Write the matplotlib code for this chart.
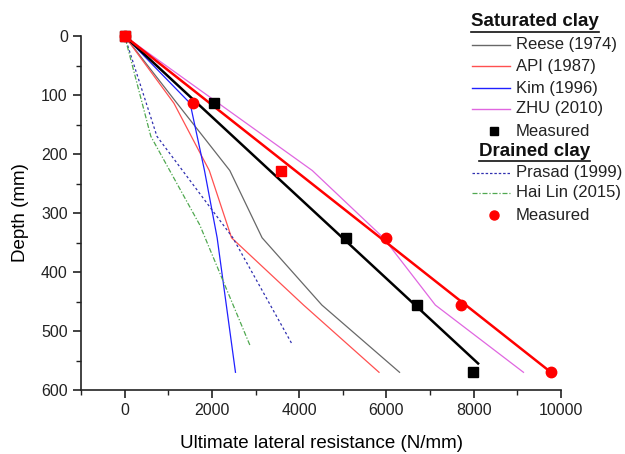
"""Ultimate lateral resistance vs depth: p-y models against measured values."""

import matplotlib

matplotlib.use("Agg")

import matplotlib.pyplot as plt
from matplotlib.lines import Line2D
from matplotlib.ticker import MultipleLocator

plt.rcParams["font.family"] = ["Liberation Sans", "DejaVu Sans"]

# --- data (resistance N/mm, depth mm) ---
reese_x = [0, 1200, 2410, 3150, 4520, 6300]
reese_y = [0, 114, 228, 342, 456, 570]

api_x = [0, 1130, 1940, 2450, 4100, 5830]
api_y = [0, 114, 228, 342, 456, 570]

kim_x = [0, 1500, 1830, 2120, 2330, 2540]
kim_y = [0, 114, 228, 342, 456, 570]

zhu_x = [0, 4300, 5930, 7120, 9140]
zhu_y = [0, 228, 342, 456, 570]

prasad_x = [0, 740, 2480, 3850]
prasad_y = [0, 170, 342, 524]

hailin_x = [0, 600, 1720, 2870]
hailin_y = [0, 170, 320, 524]

sat_fit_x = [0, 8100]
sat_fit_y = [0, 555]

sat_meas_x = [0, 2050, 5070, 6700, 7990]
sat_meas_y = [0, 114, 342, 456, 570]

dr_fit_x = [0, 9770]
dr_fit_y = [0, 570]

dr_meas_x = [0, 1570, 5980, 7716, 9770]
dr_meas_y = [0, 114, 342, 456, 570]

# one measured point drawn as a red square in the original
dr_sq_x = [0, 3580]
dr_sq_y = [0, 228]

C_REESE = "#686868"
C_API = "#ff5050"
C_KIM = "#2020ff"
C_ZHU = "#e066e0"
C_PRASAD = "#3030b0"
C_HAILIN = "#50a850"


def main():
    fig = plt.figure(figsize=(6.25, 4.54), dpi=100)
    W, H = 625.0, 454.0
    ax = fig.add_axes([81 / W, 1 - 390 / H, (561 - 81) / W, (390 - 36) / H])

    ax.plot(reese_x, reese_y, color=C_REESE, lw=0.9)
    ax.plot(api_x, api_y, color=C_API, lw=0.9)
    ax.plot(kim_x, kim_y, color=C_KIM, lw=0.9)
    ax.plot(zhu_x, zhu_y, color=C_ZHU, lw=0.9)
    ax.plot(prasad_x, prasad_y, color=C_PRASAD, lw=0.9, ls=(0, (2, 2)))
    ax.plot(hailin_x, hailin_y, color=C_HAILIN, lw=0.9, ls=(0, (4, 1.5, 1, 1.5)))

    ax.plot(sat_fit_x, sat_fit_y, color="black", lw=1.8)
    ax.plot(dr_fit_x, dr_fit_y, color="red", lw=1.8)

    ax.plot(sat_meas_x, sat_meas_y, ls="none", marker="s", ms=6.5,
            color="black", clip_on=False, zorder=5)
    ax.plot(dr_meas_x, dr_meas_y, ls="none", marker="o", ms=7.5,
            color="red", clip_on=False, zorder=6)
    ax.plot(dr_sq_x, dr_sq_y, ls="none", marker="s", ms=7,
            color="red", clip_on=False, zorder=6)

    ax.set_xlim(-1000, 10000)
    ax.set_ylim(600, 0)
    ax.xaxis.set_major_locator(MultipleLocator(2000))
    ax.xaxis.set_minor_locator(MultipleLocator(1000))
    ax.yaxis.set_major_locator(MultipleLocator(100))
    ax.yaxis.set_minor_locator(MultipleLocator(50))
    for side in ("top", "right"):
        ax.spines[side].set_visible(False)
    for side in ("left", "bottom"):
        ax.spines[side].set_linewidth(1.2)
        ax.spines[side].set_color("#222222")
    ax.tick_params(which="major", direction="out", length=6, width=1.2,
                   labelsize=11.5, colors="#222222")
    ax.tick_params(which="minor", direction="out", length=3.5, width=1.0,
                   colors="#222222")
    ax.set_xlabel("Ultimate lateral resistance (N/mm)", fontsize=13.5, labelpad=12)
    ax.set_ylabel("Depth (mm)", fontsize=13.5, labelpad=9)

    # --- hand-built legend in figure pixels ---
    def fx(px):
        return px / W

    def fy(py):
        return 1 - py / H

    rows = [
        ("Reese (1974)", dict(color=C_REESE, lw=1.0), None, 44.7),
        ("API (1987)", dict(color=C_API, lw=1.0), None, 66),
        ("Kim (1996)", dict(color=C_KIM, lw=1.0), None, 88),
        ("ZHU (2010)", dict(color=C_ZHU, lw=1.0), None, 109),
        ("Measured", None, dict(marker="s", color="black", ms=5.5), 131),
        ("Prasad (1999)", dict(color=C_PRASAD, lw=0.9, ls=(0, (2, 1.5))), None, 173),
        ("Hai Lin (2015)", dict(color=C_HAILIN, lw=0.9, ls=(0, (4, 1.5, 1, 1.5))), None, 193),
        ("Measured", None, dict(marker="o", color="red", ms=6.5), 215),
    ]
    for label, line_kw, mark_kw, py in rows:
        if line_kw:
            fig.add_artist(Line2D([fx(472), fx(510)], [fy(py), fy(py)], **line_kw))
        if mark_kw:
            fig.add_artist(Line2D([fx(494)], [fy(py)], ls="none", **mark_kw))
        fig.text(fx(516), fy(py), label, fontsize=12, va="center", ha="left",
                 color="#222222")

    headers = [("Saturated clay", 471, 22), ("Drained clay", 479, 151)]
    fig.canvas.draw()
    renderer = fig.canvas.get_renderer()
    for text, px, py in headers:
        t = fig.text(fx(px), fy(py), text, fontsize=13.5, fontweight="bold",
                     va="center", ha="left", color="#111111")
        bb = t.get_window_extent(renderer)
        fig.add_artist(Line2D([bb.x0 / W, bb.x1 / W], [fy(py + 10), fy(py + 10)],
                              color="#111111", lw=1.2))

    fig.savefig("out.png", dpi=100)


if __name__ == "__main__":
    main()
